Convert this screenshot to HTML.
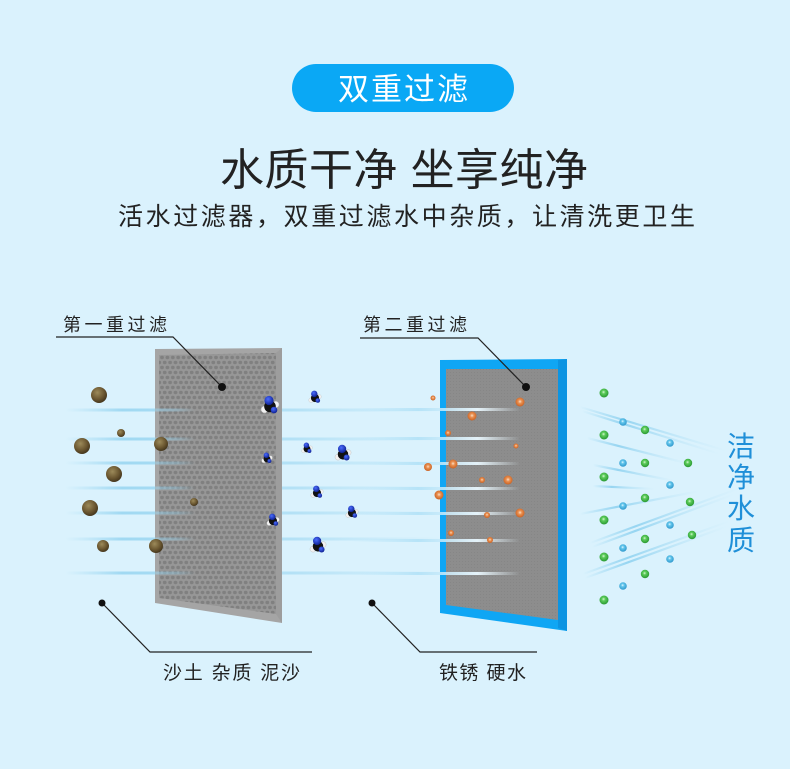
<!DOCTYPE html>
<html><head><meta charset="utf-8">
<style>
html,body{margin:0;padding:0;background:#daf2fd;}
svg{display:block;}
text{font-family:"Liberation Sans","Noto Sans CJK SC",sans-serif;}
</style></head>
<body>
<svg width="790" height="769" viewBox="0 0 790 769" xmlns="http://www.w3.org/2000/svg">
<defs>
  <pattern id="hex" width="5.4" height="10" patternUnits="userSpaceOnUse">
    <rect width="5.4" height="10" fill="#979797"/>
    <ellipse cx="2.7" cy="2.5" rx="1.9" ry="1.7" fill="#808080"/>
    <ellipse cx="0" cy="7.5" rx="1.9" ry="1.7" fill="#808080"/>
    <ellipse cx="5.4" cy="7.5" rx="1.9" ry="1.7" fill="#808080"/>
  </pattern>
  <pattern id="fine" width="3" height="3" patternUnits="userSpaceOnUse">
    <rect width="3" height="3" fill="#8d8d8d"/>
    <rect width="1" height="1" fill="#868686"/>
  </pattern>
  <linearGradient id="sl" x1="0" y1="0" x2="1" y2="0">
    <stop offset="0" stop-color="#a6dcf3" stop-opacity="0"/>
    <stop offset="0.15" stop-color="#9ad6f1" stop-opacity="0.9"/>
    <stop offset="0.6" stop-color="#9ad6f1" stop-opacity="0.6"/>
    <stop offset="1" stop-color="#a6dcf3" stop-opacity="0"/>
  </linearGradient>
  <linearGradient id="s2" x1="0" y1="0" x2="1" y2="0">
    <stop offset="0" stop-color="#bfe8fa" stop-opacity="0"/>
    <stop offset="0.4" stop-color="#aee0f6" stop-opacity="0.8"/>
    <stop offset="0.75" stop-color="#eaf8ff" stop-opacity="0.95"/>
    <stop offset="1" stop-color="#eaf8ff" stop-opacity="0"/>
  </linearGradient>
  <linearGradient id="fan" x1="0" y1="0" x2="1" y2="0">
    <stop offset="0" stop-color="#8fd2f0" stop-opacity="0"/>
    <stop offset="0.3" stop-color="#8fd2f0" stop-opacity="0.9"/>
    <stop offset="1" stop-color="#bfe6f8" stop-opacity="0"/>
  </linearGradient>
  <radialGradient id="rock" cx="0.4" cy="0.35" r="0.7">
    <stop offset="0" stop-color="#9c8a5a"/>
    <stop offset="0.6" stop-color="#6a5630"/>
    <stop offset="1" stop-color="#3e311a"/>
  </radialGradient>
  <radialGradient id="org" cx="0.5" cy="0.45" r="0.6">
    <stop offset="0" stop-color="#fbe0c8"/>
    <stop offset="0.35" stop-color="#ea9050"/>
    <stop offset="1" stop-color="#c45a1c"/>
  </radialGradient>
  <radialGradient id="grn" cx="0.45" cy="0.4" r="0.65">
    <stop offset="0" stop-color="#d8f7d4"/>
    <stop offset="0.3" stop-color="#5ccc5a"/>
    <stop offset="1" stop-color="#23922e"/>
  </radialGradient>
  <radialGradient id="blu" cx="0.45" cy="0.4" r="0.65">
    <stop offset="0" stop-color="#e8f8ff"/>
    <stop offset="0.3" stop-color="#62c6ec"/>
    <stop offset="1" stop-color="#2a92c8"/>
  </radialGradient>
  <radialGradient id="nb" cx="0.4" cy="0.35" r="0.7">
    <stop offset="0" stop-color="#4a6cff"/>
    <stop offset="1" stop-color="#0a1c8a"/>
  </radialGradient>
  <symbol id="mol" viewBox="-10 -10 20 20">
    <circle cx="-5.5" cy="4.5" r="3.4" fill="#f2f2f2" stroke="#bbb" stroke-width="0.5"/>
    <circle cx="5.8" cy="-0.5" r="3.2" fill="#f2f2f2" stroke="#bbb" stroke-width="0.5"/>
    <circle cx="0" cy="1.5" r="5.8" fill="#111"/>
    <circle cx="-1" cy="-4.5" r="4.6" fill="url(#nb)"/>
    <circle cx="4" cy="5" r="3.3" fill="url(#nb)"/>
  </symbol>
</defs>

<rect width="790" height="769" fill="#daf2fd"/>

<!-- header -->
<rect x="292" y="64" width="222" height="48" rx="24" fill="#0aa8f5"/>
<text x="338" y="100" font-size="31" fill="#ffffff" textLength="130" lengthAdjust="spacing">双重过滤</text>
<text x="220" y="185" font-size="44" fill="#222" textLength="368" lengthAdjust="spacing">水质干净 坐享纯净</text>
<text x="118" y="225" font-size="25" fill="#222" textLength="577" lengthAdjust="spacing">活水过滤器，双重过滤水中杂质，让清洗更卫生</text>

<!-- left streaks -->
<g>
  <rect x="65" y="408.5" width="380" height="3" fill="url(#sl)"/>
  <rect x="65" y="437.5" width="380" height="3" fill="url(#sl)"/>
  <rect x="65" y="461.5" width="380" height="3" fill="url(#sl)"/>
  <rect x="65" y="486.5" width="380" height="3" fill="url(#sl)"/>
  <rect x="65" y="511.5" width="380" height="3" fill="url(#sl)"/>
  <rect x="65" y="537.5" width="380" height="3" fill="url(#sl)"/>
  <rect x="65" y="571.5" width="380" height="3" fill="url(#sl)"/>
</g>

<!-- filter 1 -->
<polygon points="155,349 282,348 282,623 155,603" fill="#a5a5a5"/>
<polygon points="159,355 276,353 276,614 159,598" fill="url(#hex)"/>
<polygon points="276,353 282,348 282,623 276,614" fill="#9d9d9d"/>

<!-- streak overlays near filter1 edges -->
<g opacity="0.6">
  <rect x="150" y="408.5" width="45" height="3" fill="url(#sl)"/>
  <rect x="150" y="437.5" width="45" height="3" fill="url(#sl)"/>
  <rect x="150" y="461.5" width="45" height="3" fill="url(#sl)"/>
  <rect x="150" y="486.5" width="45" height="3" fill="url(#sl)"/>
  <rect x="150" y="511.5" width="45" height="3" fill="url(#sl)"/>
  <rect x="150" y="537.5" width="45" height="3" fill="url(#sl)"/>
  <rect x="150" y="571.5" width="45" height="3" fill="url(#sl)"/>
</g>

<!-- rocks -->
<g fill="url(#rock)">
  <circle cx="99" cy="395" r="8"/>
  <circle cx="121" cy="433" r="4"/>
  <circle cx="82" cy="446" r="8"/>
  <circle cx="161" cy="444" r="7"/>
  <circle cx="114" cy="474" r="8"/>
  <circle cx="90" cy="508" r="8"/>
  <circle cx="194" cy="502" r="4"/>
  <circle cx="103" cy="546" r="6"/>
  <circle cx="156" cy="546" r="7"/>
</g>

<!-- molecules -->
<use href="#mol" x="260" y="395" width="20" height="20"/>
<use href="#mol" x="308" y="390" width="14" height="14"/>
<use href="#mol" x="301" y="442" width="12" height="12"/>
<use href="#mol" x="334" y="444" width="18" height="18"/>
<use href="#mol" x="261" y="452" width="12" height="12"/>
<use href="#mol" x="310" y="485" width="14" height="14"/>
<use href="#mol" x="345" y="505" width="14" height="14"/>
<use href="#mol" x="266" y="513" width="14" height="14"/>
<use href="#mol" x="309" y="536" width="18" height="18"/>

<!-- filter 2 -->
<polygon points="440,360 567,359 567,631 440,613" fill="#0fa6f4"/>
<polygon points="558,360 567,359 567,631 558,628" fill="#0c94e2"/>
<polygon points="446,369 558,369 558,620 446,605" fill="url(#fine)"/>

<!-- streaks over filter 2 -->
<g>
  <rect x="350" y="408" width="170" height="3" fill="url(#s2)"/>
  <rect x="350" y="437" width="170" height="3" fill="url(#s2)"/>
  <rect x="350" y="462" width="170" height="3" fill="url(#s2)"/>
  <rect x="350" y="487" width="170" height="3" fill="url(#s2)"/>
  <rect x="350" y="512" width="170" height="3" fill="url(#s2)"/>
  <rect x="350" y="539" width="170" height="3" fill="url(#s2)"/>
  <rect x="350" y="572" width="170" height="3" fill="url(#s2)"/>
</g>

<!-- orange particles -->
<g fill="url(#org)">
  <circle cx="433" cy="398" r="2.5"/>
  <circle cx="520" cy="402" r="4.5"/>
  <circle cx="472" cy="416" r="4.5"/>
  <circle cx="448" cy="433" r="3"/>
  <circle cx="516" cy="446" r="2.5"/>
  <circle cx="428" cy="467" r="4"/>
  <circle cx="453" cy="464" r="4.5"/>
  <circle cx="482" cy="480" r="3"/>
  <circle cx="508" cy="480" r="4.5"/>
  <circle cx="439" cy="495" r="4.5"/>
  <circle cx="487" cy="515" r="3"/>
  <circle cx="520" cy="513" r="4.5"/>
  <circle cx="451" cy="533" r="3"/>
  <circle cx="490" cy="540" r="3"/>
</g>

<!-- right fan streaks -->
<g stroke="url(#fan)" stroke-width="2.2" fill="none">
  <line x1="580" y1="407" x2="727" y2="451"/>
  <line x1="582" y1="411" x2="720" y2="454"/>
  <line x1="587" y1="438" x2="690" y2="464"/>
  <line x1="593" y1="465" x2="675" y2="481"/>
  <line x1="593" y1="486" x2="655" y2="489"/>
  <line x1="580" y1="514" x2="700" y2="491"/>
  <line x1="590" y1="543" x2="740" y2="488"/>
  <line x1="592" y1="547" x2="735" y2="494"/>
  <line x1="583" y1="574" x2="730" y2="521"/>
  <line x1="585" y1="578" x2="728" y2="526"/>
</g>

<!-- green / blue particles -->
<g fill="url(#grn)">
  <circle cx="604" cy="393" r="4.5"/>
  <circle cx="604" cy="435" r="4.5"/>
  <circle cx="645" cy="430" r="4.2"/>
  <circle cx="645" cy="463" r="4.2"/>
  <circle cx="688" cy="463" r="4.2"/>
  <circle cx="604" cy="477" r="4.5"/>
  <circle cx="645" cy="498" r="4.2"/>
  <circle cx="690" cy="502" r="4.2"/>
  <circle cx="604" cy="520" r="4.5"/>
  <circle cx="645" cy="539" r="4.2"/>
  <circle cx="692" cy="535" r="4.2"/>
  <circle cx="604" cy="557" r="4.5"/>
  <circle cx="645" cy="574" r="4.2"/>
  <circle cx="604" cy="600" r="4.5"/>
</g>
<g fill="url(#blu)">
  <circle cx="623" cy="422" r="3.8"/>
  <circle cx="670" cy="443" r="3.8"/>
  <circle cx="623" cy="463" r="3.8"/>
  <circle cx="670" cy="485" r="3.8"/>
  <circle cx="623" cy="506" r="3.8"/>
  <circle cx="670" cy="525" r="3.8"/>
  <circle cx="623" cy="548" r="3.8"/>
  <circle cx="670" cy="559" r="3.8"/>
  <circle cx="623" cy="586" r="3.8"/>
</g>

<!-- vertical text -->
<g font-size="28" fill="#1f8fd8">
  <text x="727" y="456">洁</text>
  <text x="727" y="487">净</text>
  <text x="727" y="518">水</text>
  <text x="727" y="550">质</text>
</g>

<!-- callouts -->
<g stroke="#222" stroke-width="1.2" fill="none">
  <polyline points="56,337 173,337 222,387"/>
  <polyline points="360,338 478,338 526,387"/>
  <polyline points="102,603 150,652 312,652"/>
  <polyline points="372,603 420,652 537,652"/>
</g>
<g fill="#111">
  <circle cx="222" cy="387" r="4"/>
  <circle cx="526" cy="387" r="4"/>
  <circle cx="102" cy="603" r="3.5"/>
  <circle cx="372" cy="603" r="3.5"/>
</g>
<g font-size="18" fill="#222">
  <text x="63" y="331" textLength="104" lengthAdjust="spacing">第一重过滤</text>
  <text x="363" y="331" textLength="104" lengthAdjust="spacing">第二重过滤</text>
  <text x="163" y="679" font-size="19" textLength="137" lengthAdjust="spacing">沙土 杂质 泥沙</text>
  <text x="439" y="679" font-size="19" textLength="87" lengthAdjust="spacing">铁锈 硬水</text>
</g>
</svg>
</body></html>
